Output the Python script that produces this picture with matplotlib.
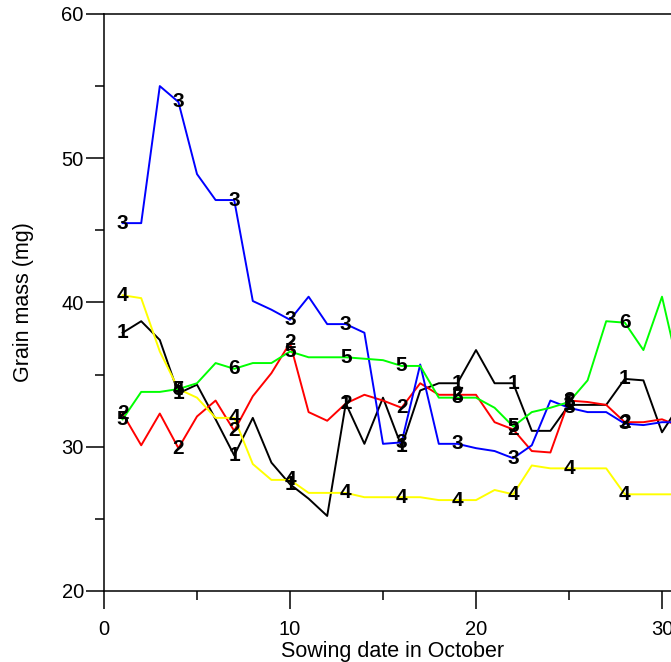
import matplotlib
matplotlib.use("Agg")
import matplotlib.pyplot as plt

plt.rcParams['font.family'] = ['Liberation Sans', 'DejaVu Sans']

days = list(range(1, 32))

# grain mass (mg) per sowing date
black = [37.9, 38.7, 37.4, 33.7, 34.3, 31.9, 29.4, 32.0, 28.9, 27.4,
         26.4, 25.2, 33.0, 30.2, 33.4, 30.0, 33.9, 34.4, 34.4, 36.7,
         34.4, 34.4, 31.1, 31.1, 32.9, 32.9, 32.9, 34.7, 34.6, 31.0, 33.0]
red = [32.3, 30.1, 32.3, 29.9, 32.1, 33.2, 31.1, 33.5, 35.1, 37.2,
       32.4, 31.8, 33.0, 33.6, 33.2, 32.7, 34.4, 33.6, 33.6, 33.6,
       31.7, 31.2, 29.7, 29.6, 33.2, 33.1, 32.9, 31.7, 31.7, 31.9, 31.4]
blue = [45.5, 45.5, 55.0, 53.9, 48.9, 47.1, 47.1, 40.1, 39.5, 38.8,
        40.4, 38.5, 38.5, 37.9, 30.2, 30.3, 35.7, 30.2, 30.2, 29.9,
        29.7, 29.2, 30.1, 33.2, 32.7, 32.4, 32.4, 31.6, 31.5, 31.7, 31.7]
yellow = [40.5, 40.3, 36.6, 34.0, 33.4, 32.0, 32.0, 28.8, 27.7, 27.7,
          26.8, 26.8, 26.8, 26.5, 26.5, 26.5, 26.5, 26.3, 26.3, 26.3,
          27.0, 26.7, 28.7, 28.5, 28.5, 28.5, 28.5, 26.7, 26.7, 26.7, 26.7]
green = [31.9, 33.8, 33.8, 34.0, 34.4, 35.8, 35.4, 35.8, 35.8, 36.6,
         36.2, 36.2, 36.2, 36.1, 36.0, 35.6, 35.6, 33.4, 33.4, 33.4,
         32.7, 31.4, 32.4, 32.7, 33.1, 34.6, 38.7, 38.6, 36.7, 40.4, 34.8]

series = [(black, 'black', '1'), (red, 'red', '2'), (blue, 'blue', '3'),
          (yellow, 'yellow', '4'), (green, '#00ff00', '5')]
label_days = list(range(1, 29, 3))
green_alt = {7: '6', 28: '6'}

fig = plt.figure(figsize=(6.71, 6.62), dpi=100)
# the axes run past the right edge of the picture, as in the reference crop
ax = fig.add_axes([0.155, 0.1073, 0.8593, 0.8716])

for vals, col, tag in series:
    ax.plot(days, vals, color=col, lw=1.4, zorder=2)
    for d in label_days:
        txt = tag
        if tag == '5':
            txt = green_alt.get(d, tag)
        ax.text(d, vals[d - 1], txt, ha='center', va='center',
                fontsize=15, fontweight='bold', color='black', zorder=3)

ax.set_xlim(0, 31)
ax.set_ylim(20, 60)
ax.set_xticks([0, 10, 20, 30])
ax.set_xticks([5, 15, 25], minor=True)
ax.set_yticks([20, 30, 40, 50, 60])
ax.set_yticks([25, 35, 45, 55], minor=True)
ax.tick_params(which='major', direction='out', length=13, width=1.1,
               labelsize=14.5)
ax.tick_params(axis='x', which='major', pad=8)
ax.tick_params(axis='y', which='major', pad=1.5)
ax.tick_params(which='minor', direction='out', length=6.5, width=1.1)
for s in ax.spines.values():
    s.set_linewidth(1.1)

ax.set_xlabel('Sowing date in October', fontsize=15.5, labelpad=1.5)
ax.set_ylabel('Grain mass (mg)', fontsize=15.5, labelpad=20)

fig.savefig('out.png', dpi=100)
